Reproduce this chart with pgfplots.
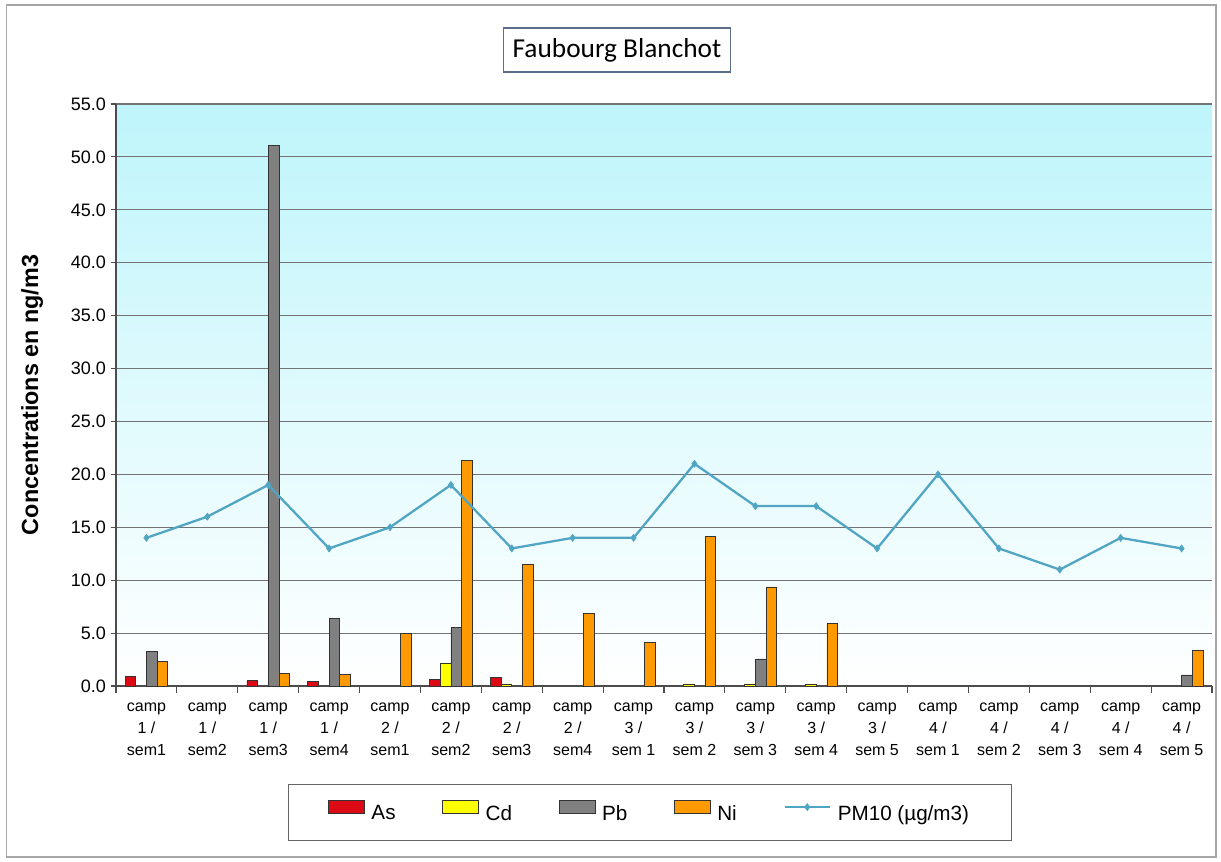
\documentclass[border=0pt]{standalone}
\usepackage{pgfplots}
\pgfplotsset{compat=1.18}
\usepackage{fontspec}
\setmainfont{Liberation Sans}
\newfontfamily\titlefont{Carlito}

\definecolor{cAs}{RGB}{220,10,20}
\definecolor{cCd}{RGB}{255,255,0}
\definecolor{cPb}{RGB}{128,128,128}
\definecolor{cNi}{RGB}{255,153,0}
\definecolor{cPM}{RGB}{80,165,195}
\definecolor{cyantop}{RGB}{190,245,251}
\definecolor{cyanmid}{RGB}{228,251,254}
\definecolor{framecol}{RGB}{90,110,140}

\pgfplotsset{
  barlegend/.style={legend image code/.code={\draw[##1] (0pt,0pt) rectangle (27pt,10pt);}},
  linelegend/.style={legend image code/.code={\draw[##1, mark repeat=2, mark phase=2] plot coordinates {(0pt,5pt) (17pt,5pt) (34pt,5pt)};}},
}

\begin{document}
\begin{tikzpicture}
\useasboundingbox (0,0) rectangle (915.75pt,645.75pt);
\draw[gray!70, line width=1pt] (5pt,3pt) rectangle (912pt,642pt);

\begin{axis}[
  at={(87pt,131.25pt)}, anchor=south west,
  scale only axis, width=822pt, height=436.5pt,
  ybar=0pt, bar width=8pt,
  xmin=-0.5, xmax=17.5,
  ymin=0, ymax=55,
  axis x line*=bottom, axis y line*=left,
  every outer x axis line/.append style={-},
  every outer y axis line/.append style={-},
  axis line style={-, draw=black!70, line width=0.8pt},
  axis background/.style={top color=cyantop, middle color=cyanmid, bottom color=white},
  ymajorgrids=true,
  major grid style={draw=black!55, line width=0.8pt},
  tick align=outside,
  major tick length=4pt,
  ytick={0,5,...,55},
  ytick style={draw=black!70, line width=0.8pt},
  yticklabel style={font=\fontsize{13.5}{16}\selectfont,
    /pgf/number format/.cd, fixed, fixed zerofill, precision=1, assume math mode=true},
  xtick={0,...,17},
  xtick style={draw=none},
  xticklabels={{camp\\1 /\\sem1},{camp\\1 /\\sem2},{camp\\1 /\\sem3},{camp\\1 /\\sem4},
    {camp\\2 /\\sem1},{camp\\2 /\\sem2},{camp\\2 /\\sem3},{camp\\2 /\\sem4},
    {camp\\3 /\\sem 1},{camp\\3 /\\sem 2},{camp\\3 /\\sem 3},{camp\\3 /\\sem 4},{camp\\3 /\\sem 5},
    {camp\\4 /\\sem 1},{camp\\4 /\\sem 2},{camp\\4 /\\sem 3},{camp\\4 /\\sem 4},{camp\\4 /\\sem 5}},
  xticklabel style={align=center, font=\fontsize{12}{16.5}\selectfont, yshift=-5pt},
  extra x ticks={-0.5,0.5,...,17.5},
  extra x tick labels={},
  extra x tick style={xtick style={draw=black!70, line width=0.8pt}, major tick length=5pt},
  ylabel={Concentrations en ng/m3},
  ylabel style={at={(axis description cs:-0.0766,0.5)}, anchor=center, rotate=0,
    font=\bfseries\fontsize{17.5}{20}\selectfont},
  legend style={at={(0.4872,-0.2174)}, anchor=center, legend columns=5,
    draw=black!60, line width=0.8pt, fill=white,
    font=\fontsize{15.5}{18}\selectfont,
    inner xsep=30pt, inner ysep=12pt,
    /tikz/every odd column/.append style={column sep=3pt},
    /tikz/every even column/.append style={column sep=33pt}},
]

\addplot[barlegend, fill=cAs, draw=black!80, line width=0.5pt] coordinates {
  (0,0.87) (2,0.5) (3,0.45) (5,0.65) (6,0.84)
};
\addlegendentry{As}

\addplot[barlegend, fill=cCd, draw=black!80, line width=0.5pt] coordinates {
  (5,2.18) (6,0.2) (9,0.2) (10,0.2) (11,0.2)
};
\addlegendentry{Cd}

\addplot[barlegend, fill=cPb, draw=black!80, line width=0.5pt] coordinates {
  (0,3.28) (2,51.1) (3,6.4) (5,5.52) (10,2.56) (17,1.05)
};
\addlegendentry{Pb}

\addplot[barlegend, fill=cNi, draw=black!80, line width=0.5pt] coordinates {
  (0,2.34) (2,1.19) (3,1.09) (4,5.0) (5,21.3) (6,11.5) (7,6.87) (8,4.1)
  (9,14.1) (10,9.36) (11,5.93) (17,3.4)
};
\addlegendentry{Ni}

\addplot[sharp plot, linelegend, draw=cPM, line width=1.7pt, mark=diamond*, mark size=2.6pt,
  mark options={fill=cPM, draw=cPM, line width=0.5pt}]
  coordinates {
  (0,14) (1,16) (2,19) (3,13) (4,15) (5,19) (6,13) (7,14) (8,14)
  (9,21) (10,17) (11,17) (12,13) (13,20) (14,13) (15,11) (16,14) (17,13)
};
\addlegendentry{PM10 (µg/m3)}
\end{axis}

\node[draw=framecol, line width=1.2pt, fill=white, inner xsep=7pt, minimum height=33pt,
  font=\titlefont\fontsize{20.5}{24}\selectfont] at (462.75pt,608.25pt) {Faubourg Blanchot};
\end{tikzpicture}
\end{document}
